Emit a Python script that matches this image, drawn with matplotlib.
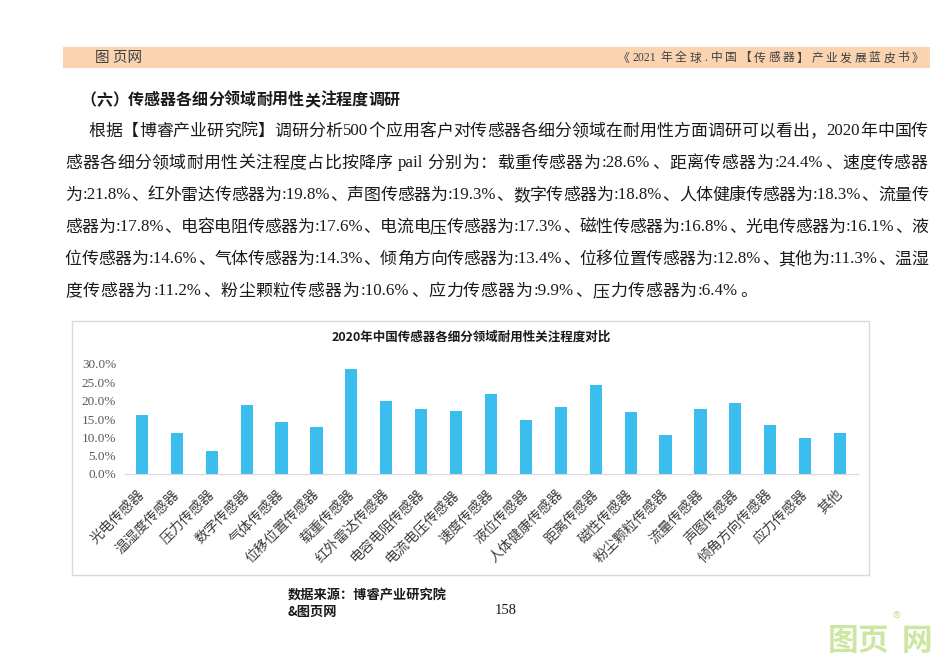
import matplotlib
matplotlib.use("Agg")
import matplotlib.pyplot as plt
from matplotlib.patches import Rectangle
from matplotlib.transforms import ScaledTranslation

# chart data
categories = ["光电传感器", "温湿度传感器", "压力传感器", "数字传感器", "气体传感器", "位移位置传感器",
              "载重传感器", "红外雷达传感器", "电容电阻传感器", "电流电压传感器", "速度传感器", "液位传感器",
              "人体健康传感器", "距离传感器", "磁性传感器", "粉尘颗粒传感器", "流量传感器", "声图传感器",
              "倾角方向传感器", "应力传感器", "其他"]
values = [16.1, 11.2, 6.4, 18.8, 14.3, 12.8, 28.6, 19.8, 17.6, 17.3, 21.8, 14.6,
          18.3, 24.4, 16.8, 10.6, 17.8, 19.3, 13.4, 9.9, 11.3]
y_ticks = [0, 5, 10, 15, 20, 25, 30]

chart_title = "2020年中国传感器各细分领域耐用性关注程度对比"
heading = "（六）传感器各细分领域耐用性关注程度调研"
para_lines = [
    "根据【博睿产业研究院】调研分析500个应用客户对传感器各细分领域在耐用性方面调研可以看出，2020年中国传",
    "感器各细分领域耐用性关注程度占比按降序pail分别为：载重传感器为:28.6%、距离传感器为:24.4%、速度传感器",
    "为:21.8%、红外雷达传感器为:19.8%、声图传感器为:19.3%、数字传感器为:18.8%、人体健康传感器为:18.3%、流量传",
    "感器为:17.8%、电容电阻传感器为:17.6%、电流电压传感器为:17.3%、磁性传感器为:16.8%、光电传感器为:16.1%、液",
    "位传感器为:14.6%、气体传感器为:14.3%、倾角方向传感器为:13.4%、位移位置传感器为:12.8%、其他为:11.3%、温湿",
    "度传感器为:11.2%、粉尘颗粒传感器为:10.6%、应力传感器为:9.9%、压力传感器为:6.4%。",
]

W, H = 950, 672
CJK = "Noto Sans CJK SC"
plt.rcParams['font.family'] = [CJK, 'DejaVu Sans']

fig = plt.figure(figsize=(W / 100, H / 100), dpi=100)


def px(x, y):
    return x / W, 1 - y / H


def units(s):
    return sum(0.5 if ord(c) < 128 else 1 for c in s)


def put_line(x0, y, s, unit, size, color="#1a1a1a", weight="normal"):
    """ Lays a line out on a grid like the SimSun page text.
    CJK chars get one cell each, runs of ascii share half cells """
    x = x0
    i = 0
    while i < len(s):
        if ord(s[i]) < 128:
            j = i
            while j < len(s) and ord(s[j]) < 128:
                j += 1
            run = s[i:j]
            w = unit / 2 * len(run)
            fig.text(*px(x + w / 2, y), run, ha="center", va="center", fontsize=size,
                     family="Liberation Serif", color=color)
            i = j
        else:
            w = unit
            fig.text(*px(x + w / 2, y), s[i], ha="center", va="center", fontsize=size,
                     family=CJK, color=color, fontweight=weight)
            i += 1
        x += w


# header band
fig.patches.append(Rectangle(px(63, 68), 867 / W, 21 / H, transform=fig.transFigure,
                             facecolor="#FAD3B1", edgecolor="none", zorder=0))
fig.text(*px(95, 58), "图 页网", ha="left", va="center", fontsize=10.5, color="#404040",
         style="italic")
hdr = "《2021年全球.中国【传感器】产业发展蓝皮书》"
put_line(616, 58, hdr, 309 / units(hdr), 8.5, color="#404040")

# heading and paragraph
put_line(80, 100, heading, 16.0, 11.5, weight="bold")
for i, line in enumerate(para_lines):
    x0 = 88 if i == 0 else 65
    y = 131 + i * 32
    if i < len(para_lines) - 1:
        unit = (928 - x0) / units(line)
    else:
        unit = 17.3
    put_line(x0, y, line, unit, 12.2)

# chart frame
fig.patches.append(Rectangle(px(72, 575), 797 / W, 254 / H, transform=fig.transFigure,
                             facecolor="white", edgecolor="#D9D9D9", linewidth=1, zorder=0))
fig.text(*px(471, 337), chart_title, ha="center", va="center", fontsize=9,
         fontweight="bold", color="#1a1a1a")

ax = fig.add_axes([124.5 / W, (H - 474) / H, 733 / W, 110 / H])
ax.set_zorder(3)
x = range(len(categories))
ax.bar(x, values, width=0.35, color="#3BBEEE")
ax.set_xlim(-0.5, len(categories) - 0.5)
ax.set_ylim(0, 30)
ax.set_yticks(y_ticks)
ax.set_yticklabels(["%.1f%%" % v for v in y_ticks], family="Liberation Serif", fontsize=9.5,
                   color="#595959")
ax.set_xticks(list(x))
ax.set_xticklabels(categories, rotation=45, ha="right", va="center", rotation_mode="anchor",
                   fontsize=10, color="#404040")
shift = ScaledTranslation(0.05, 0, fig.dpi_scale_trans)
for lab in ax.get_xticklabels():
    lab.set_transform(lab.get_transform() + shift)
ax.tick_params(length=0)
ax.tick_params(axis="y", pad=6)
ax.tick_params(axis="x", pad=13)
for s in ["top", "right", "left"]:
    ax.spines[s].set_visible(False)
ax.spines["bottom"].set_color("#D9D9D9")
ax.patch.set_alpha(0)

# source and page number
fig.text(*px(288, 595), "数据来源：博睿产业研究院", ha="left", va="center", fontsize=9.5,
         fontweight="bold", color="#1a1a1a")
fig.text(*px(288, 612), "&图页网", ha="left", va="center", fontsize=9.5,
         fontweight="bold", color="#1a1a1a")
fig.text(*px(495, 611), "158", ha="left", va="center", fontsize=10.5,
         family="Liberation Serif", color="#1a1a1a")

# watermark
for ch, xc in [("图", 843), ("页", 873), ("网", 917)]:
    fig.text(*px(xc, 641), ch, ha="center", va="center", fontsize=22, fontweight="bold",
             color="#CDE6A2")
fig.text(*px(897, 619), "®", ha="center", va="center", fontsize=12, color="#CDE6A2")

fig.savefig("out.png", dpi=100)
